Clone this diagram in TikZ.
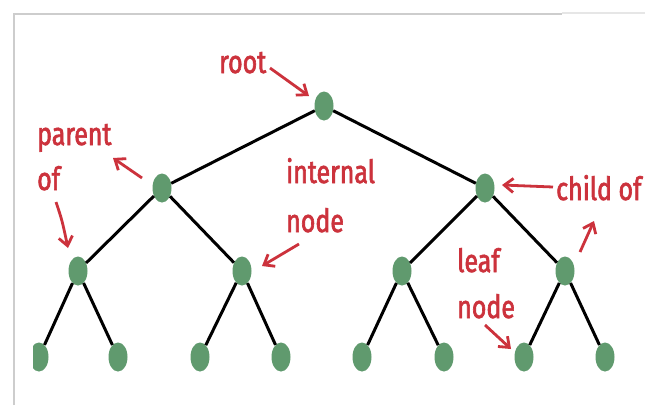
\documentclass[tikz,border=0pt]{standalone}
\usepackage{fontspec}
\usetikzlibrary{arrows.meta,shapes.geometric}
\newfontfamily\labfont[FakeStretch=0.78,FakeBold=2]{Fira Sans}
\definecolor{nodegreen}{RGB}{96,154,110}
\definecolor{labred}{RGB}{204,50,60}
\definecolor{framegray}{RGB}{205,205,205}
\begin{document}
\begin{tikzpicture}[x=1pt,y=-1pt,
  tn/.style={ellipse,fill=nodegreen,minimum width=19pt,minimum height=29pt,inner sep=0pt},
  edge/.style={line width=3pt,black},
  lab/.style={text=labred,font=\labfont\fontsize{32}{32}\selectfont,inner sep=0pt,anchor=base west},
  redarrow/.style={line width=2.8pt,labred,-{Straight Barb[length=9pt,width=14pt,line width=2.8pt]}}]
\useasboundingbox (0,0) rectangle (645,405);
\fill[white] (0,0) rectangle (645,405);
% frame
\draw[framegray,line width=2.5pt] (14,405) -- (14,14) -- (562,14);
\draw[framegray!50,line width=2pt] (562,13) -- (645,13);
% tree nodes
\node[tn] (r) at (324,106) {};
\node[tn] (a) at (162,188) {};
\node[tn] (b) at (485,188) {};
\node[tn] (aa) at (78,271) {};
\node[tn] (ab) at (242,271) {};
\node[tn] (ba) at (402,271) {};
\node[tn] (bb) at (565,271) {};
\node[tn] (l1) at (39,357) {};
\node[tn] (l2) at (118,357) {};
\node[tn] (l3) at (200,357) {};
\node[tn] (l4) at (281,357) {};
\node[tn] (l5) at (362,357) {};
\node[tn] (l6) at (444,357) {};
\node[tn] (l7) at (524,357) {};
\node[tn] (l8) at (605,357) {};
\fill[white] (16,330) rectangle (32.5,385);
% edges
\draw[edge] (r) -- (a);
\draw[edge] (r) -- (b);
\draw[edge] (a) -- (aa);
\draw[edge] (a) -- (ab);
\draw[edge] (b) -- (ba);
\draw[edge] (b) -- (bb);
\draw[edge] (aa) -- (l1);
\draw[edge] (aa) -- (l2);
\draw[edge] (ab) -- (l3);
\draw[edge] (ab) -- (l4);
\draw[edge] (ba) -- (l5);
\draw[edge] (ba) -- (l6);
\draw[edge] (bb) -- (l7);
\draw[edge] (bb) -- (l8);
% labels
\node[lab] (troot) at (219,73) {root};
\node[lab] (tparent) at (37,145) {parent};
\node[lab] (tof) at (37,190) {of};
\node[lab] (tint) at (286,183) {internal};
\node[lab] (tnode) at (286,232) {node};
\node[lab] (tchild) at (556,200) {child of};
\node[lab] (tleaf) at (457,272) {leaf};
\node[lab] (tnode2) at (457,318) {node};
% arrow end points
\coordinate (p1s) at (270,68);  \coordinate (p1e) at (309,96);
\coordinate (p2s) at (142,178); \coordinate (p2e) at (113,158);
\coordinate (p3s) at (56,202);  \coordinate (p3e) at (68,248);
\coordinate (p4s) at (299,244); \coordinate (p4e) at (262,266);
\coordinate (p5s) at (553,187); \coordinate (p5e) at (502,185);
\coordinate (p6s) at (580,252); \coordinate (p6e) at (594,221);
\coordinate (p7s) at (485,325); \coordinate (p7e) at (511,349);
\draw[redarrow] (p1s) -- (p1e);
\draw[redarrow] (p2s) -- (p2e);
\draw[redarrow] (p3s) .. controls (62,220) .. (p3e);
\draw[redarrow] (p4s) -- (p4e);
\draw[redarrow] (p5s) -- (p5e);
\draw[redarrow] (p6s) -- (p6e);
\draw[redarrow] (p7s) -- (p7e);
\end{tikzpicture}
\end{document}
